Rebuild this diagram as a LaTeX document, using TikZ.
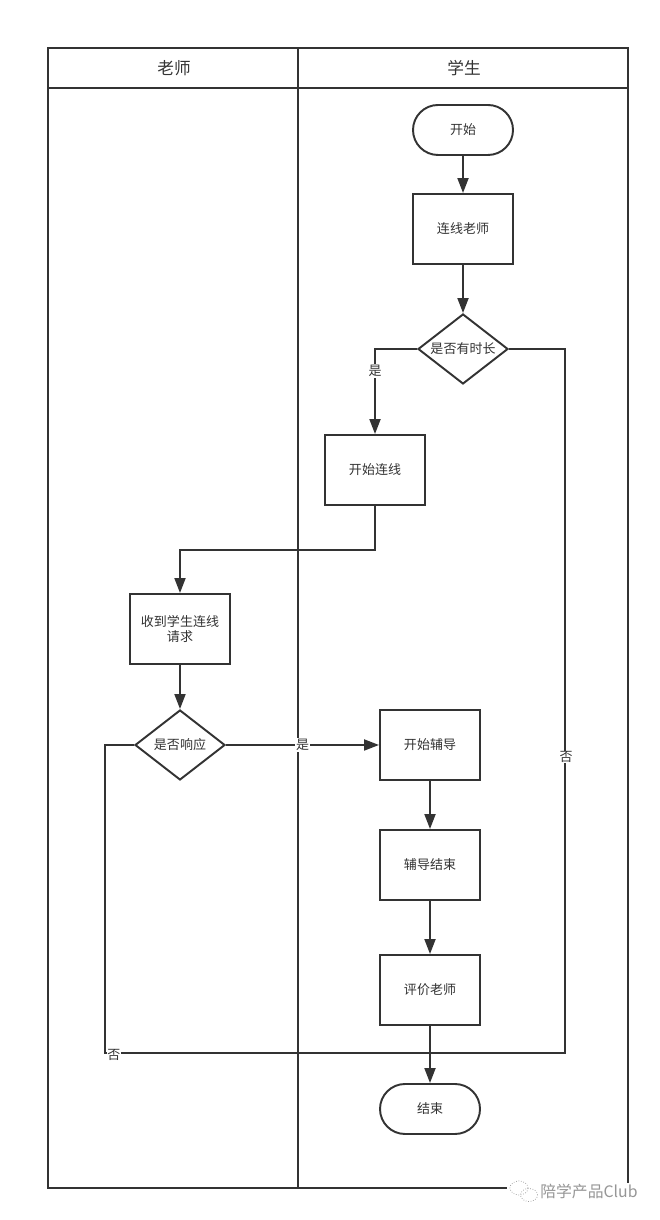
\documentclass[tikz,border=0pt]{standalone}
\usepackage{fontspec}
\setmainfont{Noto Sans CJK SC}
\definecolor{flowink}{RGB}{51,51,51}
\definecolor{markgray}{RGB}{150,150,150}
\usetikzlibrary{arrows.meta,positioning,shapes.geometric,calc}
\tikzset{
  lanehead/.style={font=\fontsize{9.5}{11}\selectfont, text=flowink},
  flowbox/.style={draw=flowink, fill=white, line width=1.1pt, minimum width=2cm, minimum height=1.4cm, inner sep=0pt, font=\fontsize{7.4}{9}\selectfont, align=center, text=flowink},
  flowend/.style={flowbox, rounded corners=0.5cm, minimum height=1cm},
  flowgate/.style={draw=flowink, fill=white, line width=1.1pt, diamond, aspect=1.29, minimum width=1.8cm, minimum height=1.4cm, inner sep=0pt, font=\fontsize{7.4}{9}\selectfont, text=flowink},
  flowline/.style={-{Triangle[length=0.3cm,width=0.22cm]}, line width=1.1pt, flowink},
  flowpath/.style={line width=1.1pt, flowink},
  flowtag/.style={fill=white, inner sep=0.5pt, font=\fontsize{7.4}{9}\selectfont, text=flowink}
}
\begin{document}
\begin{tikzpicture}
  \useasboundingbox (0,0) rectangle (13.2,24.4);

  %--- Swimlanes ---
  \draw[flowpath] (0.96,0.64) rectangle (12.56,23.44);
  \draw[flowpath] (0.96,22.64) -- (12.56,22.64);
  \draw[flowpath] (5.96,0.64) -- (5.96,23.44);
  \node[lanehead] (teacher) at (3.48,23.04) {老师};
  \node[lanehead] (student) at (9.28,23.04) {学生};

  % Student nodes
  \node[flowend] (start) at (9.26,21.8) {开始};
  \node[flowbox] (connect) at (9.26,19.82) {连线老师};
  \node[flowgate] (hastime) at (9.26,17.42) {是否有时长};
  \node[flowbox] (begin) at (7.5,15.0) {开始连线};

  % Teacher nodes
  \node[flowbox] (receive) at (3.6,11.82) {收到学生连线\\请求};
  \node[flowgate] (respond) at (3.6,9.5) {是否响应};

  % Tutoring nodes
  \node[flowbox] (tutor) at (8.6,9.5) {开始辅导};
  \node[flowbox] (tutorend) at (8.6,7.1) {辅导结束};
  \node[flowbox] (rate) at (8.6,4.6) {评价老师};
  \node[flowend] (finish) at (8.6,2.22) {结束};

  % Turning points
  \coordinate (merge) at (8.6,3.34);
  \coordinate (timeturn) at (11.3,3.34);
  \coordinate (sideturn) at (2.1,3.34);
  \coordinate (handover) at (7.5,13.4);

  % Arrows
  \draw[flowline] (start.south) -- (connect.north);
  \draw[flowline] (connect.south) -- (hastime.north);
  \draw[flowline] (hastime.west) -| node[flowtag, pos=0.63] {是} (begin.north);
  \draw[flowline] (begin.south) -- (handover) -| (receive.north);
  \draw[flowline] (receive.south) -- (respond.north);
  \draw[flowline] (respond.east) -- node[flowtag, pos=0.5] {是} (tutor.west);
  \draw[flowline] (tutor.south) -- (tutorend.north);
  \draw[flowline] (tutorend.south) -- (rate.north);
  \draw[flowline] (rate.south) -- (finish.north);
  \draw[flowpath] (hastime.east) -| (timeturn) -- (merge);
  \draw[flowpath] (respond.west) -| (sideturn) -- (merge);
  \node[flowtag] (notime) at (11.32,9.26) {否};
  \node[flowtag] (noreply) at (2.28,3.3) {否};

  %--- Watermark ---
  \node[fill=white, minimum width=2.66cm, minimum height=0.36cm, inner sep=0pt] (markbg) at (11.46,0.56) {};
  \draw[markgray, densely dotted] (10.38,0.64) ellipse (0.18 and 0.14);
  \draw[markgray, densely dotted] (10.58,0.5) ellipse (0.17 and 0.13);
  \node[font=\fontsize{9}{10}\selectfont, text=markgray, inner sep=0pt, anchor=west] (mark) at (10.8,0.58) {陪学产品Club};
\end{tikzpicture}
\end{document}
